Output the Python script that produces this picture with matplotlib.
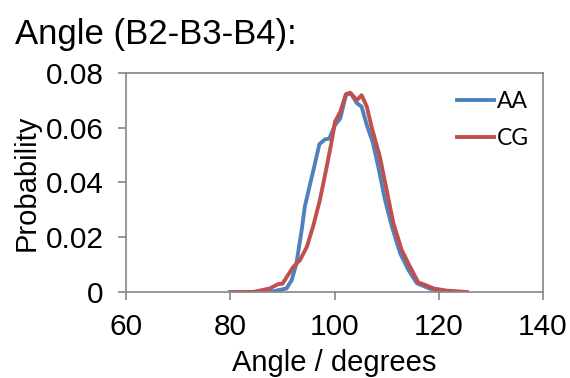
import numpy as np
import matplotlib.pyplot as plt

# Angle distribution B2-B3-B4, atomistic (AA) vs coarse-grained (CG)
aa_angle = [84, 87.6, 90.8, 91.8, 92.7, 93.7, 94.3, 95.2, 96.1, 97.1, 98.2, 99.0,
            100.1, 101.1, 102.2, 103.1, 104.3, 105.2, 106.2, 107.4, 108.4, 109.7,
            111.0, 112.6, 114.2, 115.8, 118.3, 121.0, 122.8]
aa_prob = [0.0, 0.0, 0.0013, 0.0044, 0.0105, 0.0226, 0.0311, 0.0385, 0.0457, 0.054,
           0.0558, 0.056, 0.061, 0.0634, 0.072, 0.0726, 0.069, 0.0677, 0.061, 0.0543,
           0.0457, 0.0336, 0.024, 0.0141, 0.008, 0.0032, 0.0012, 0.0003, 0.0]

cg_angle = [80, 84.4, 87.6, 89.2, 90.0, 92.1, 93.4, 94.7, 95.9, 97.2, 98.5, 99.5,
            100.1, 101.1, 102.2, 103.0, 104.3, 105.2, 106.2, 107.1, 108.7, 110.0,
            111.3, 112.9, 114.5, 116.1, 116.7, 119.0, 121.5, 125.4]
cg_prob = [0.0, 0.0, 0.0013, 0.0029, 0.003, 0.0092, 0.0117, 0.0165, 0.024, 0.0336,
           0.0457, 0.0555, 0.0622, 0.0658, 0.0723, 0.0728, 0.0701, 0.0719, 0.0677,
           0.0604, 0.0494, 0.0373, 0.0251, 0.0153, 0.0092, 0.0034, 0.0031, 0.0013,
           0.0005, 0.0]

xticks = [60, 80, 100, 120, 140]
yticks = [0, 0.02, 0.04, 0.06, 0.08]
ytick_labels = ['0', '0.02', '0.04', '0.06', '0.08']

plt.rcParams['font.family'] = ['Liberation Sans', 'DejaVu Sans']
grey = '#868686'

fig = plt.figure(figsize=(5.7, 3.78), dpi=100)
ax = fig.add_axes([126 / 570, 1 - 292 / 378, 417 / 570, 219 / 378])

ax.plot(aa_angle, aa_prob, color='#4F81BD', lw=2.8, label='AA', solid_joinstyle='round')
ax.plot(cg_angle, cg_prob, color='#C0504D', lw=2.8, label='CG', solid_joinstyle='round')

ax.set_xlim(60, 140)
ax.set_ylim(0, 0.08)
ax.set_xticks(xticks)
ax.set_yticks(yticks)
ax.set_yticklabels(ytick_labels)
for s in ax.spines.values():
    s.set_color(grey)
    s.set_linewidth(1.2)
ax.tick_params(axis='both', direction='out', length=6, width=1.2, color=grey,
               labelsize=21.5)
ax.tick_params(axis='y', pad=10)
ax.tick_params(axis='x', pad=9)

ax.set_xlabel('Angle / degrees', fontsize=21, labelpad=6)
ax.set_ylabel('Probability', fontsize=21, labelpad=4)

fig.text(15 / 570, 1 - 44 / 378, 'Angle (B2-B3-B4):', fontsize=25, va='baseline')

leg = ax.legend(loc='upper right', bbox_to_anchor=(1.0, 0.98), frameon=False,
                prop={'family': 'Lato', 'size': 16.5}, handlelength=1.6,
                handletextpad=0.15, labelspacing=0.7, borderaxespad=0.2)

fig.savefig('out.png', dpi=100)
